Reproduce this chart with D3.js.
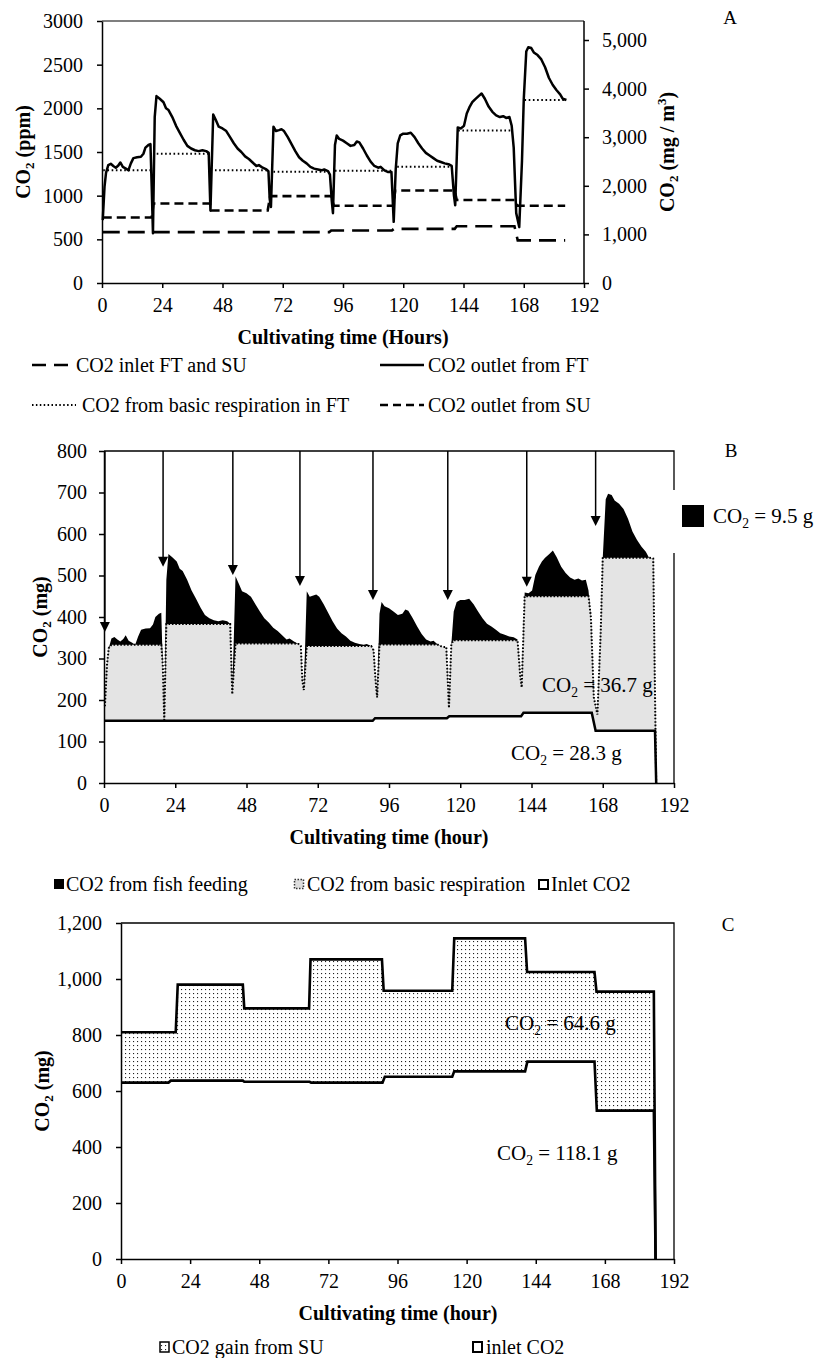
<!DOCTYPE html>
<html><head><meta charset="utf-8">
<script src="https://cdn.jsdelivr.net/npm/d3@7"></script>
<style>html,body{margin:0;padding:0;background:#fff}</style>
</head><body>
<svg id="chart" width="819" height="1358" xmlns="http://www.w3.org/2000/svg"></svg>
<script>
// ================= DATA =================
const hourTicks = [0, 24, 48, 72, 96, 120, 144, 168, 192];
const aLeftTicks = [0, 500, 1000, 1500, 2000, 2500, 3000];
const aRightTicks = [0, 1000, 2000, 3000, 4000, 5000];
const aRightMax = 5391;               // mg/m3 equivalent of 3000 ppm (right axis top)
const bTicks = [0, 100, 200, 300, 400, 500, 600, 700, 800];
const cTicks = [0, 200, 400, 600, 800, 1000, 1200];

// Panel A / B : outlet from fish tank (sampling hours)
const outletHours = [
  0.3,1.0,1.6,2.5,3.5,4.5,5.5,6.5,7.3,8.3,9.5,10.5,11.5,12.5,14,15.5,16.5,17.3,18.5,19.3,19.8,20.3,
  21.0,21.7,23,24.5,25.5,26.5,28,29.5,31,32.5,34,35.5,37,38.5,40,41.5,42.5,43.2,
  44.3,45.3,46.5,48,49.5,51,52.5,54,55.5,57,58.5,60,61.5,62.5,64,65.5,66.3,66.8,67.3,
  68.3,69.3,70.5,71.5,72.5,74,75.5,77,78.5,80,81.5,83,84.5,86,87.5,88.5,90,90.8,91.5,92,
  92.8,93.5,94.5,96,97.5,99,100.5,101.5,102.5,104,105.5,107,108.5,110,111,112.5,114,115.3,116.2,
  117,117.8,118.8,120,121.5,123,124.5,126,127.5,129,130.5,132,133.5,135,136.5,138,139.3,140.2,140.7,
  141.7,143,144.2,145.3,146.5,147.5,148.5,150,151.2,152.5,154,155.5,157,158.5,159.8,161,162.3,163.2,164,165,166.2,
  167.3,168,169,169.8,171,172,173.5,175,176.5,178,179.5,181,182.5,183.5,185
];
const aOutletPpm = [
  720,1100,1260,1350,1365,1340,1320,1345,1380,1330,1310,1290,1370,1430,1440,1445,1480,1550,1580,1590,1100,570,
  1900,2140,2110,2070,2000,1980,1900,1800,1720,1640,1570,1540,1520,1510,1520,1510,1490,830,
  1930,1870,1790,1770,1740,1670,1600,1540,1500,1450,1420,1380,1340,1350,1320,1300,1280,960,870,
  1790,1740,1750,1760,1740,1670,1590,1510,1440,1400,1370,1330,1310,1300,1290,1300,1280,1240,950,800,
  1580,1690,1650,1630,1600,1570,1580,1620,1610,1540,1460,1390,1340,1320,1330,1290,1270,1270,700,
  1300,1600,1690,1710,1710,1720,1670,1600,1540,1490,1460,1430,1400,1385,1370,1360,1340,1000,890,
  1780,1770,1800,1940,2020,2070,2100,2140,2170,2110,2020,1960,1920,1900,1910,1890,1900,1800,1550,800,640,
  1400,2100,2650,2700,2690,2640,2610,2560,2470,2350,2270,2210,2160,2110,2095
];
// basic respiration level per cycle (dotted)
const aBasicStart = [0.5, 21.8, 45.0, 68.3, 92.8, 117.6, 141.9, 168.3];
const aBasicEnd   = [19.3, 42.5, 66.0, 90.5, 115.3, 139.3, 163.0, 185];
const aBasicPpm   = [1290, 1480, 1290, 1275, 1285, 1330, 1745, 2095];
// outlet from SU (short dash)
const suHours = [0.3,19.8,20.5,43.0,43.5,66.0,67.0,91.5,92.3,116.0,116.8,140.5,141.3,164.5,165.5,184.5];
const aSuPpm  = [750,750,910,910,830,830,995,995,885,885,1060,1060,950,950,885,885];
// inlet FT and SU (long dash)
const inletHours = [0.3, 90.5, 91.3, 115.5, 116.3, 140.5, 141.3, 164.3, 165.6, 184.5];
const aInletPpm  = [582, 582, 602, 602, 620, 620, 650, 650, 488, 488];

// Panel B (mg)
const bHours = outletHours.concat([186]);
const bOutletMg = [
  185,284,325,348,352,346,341,347,356,343,338,333,353,369,372,373,382,400,408,410,284,152,
  490,552,544,534,516,511,490,464,444,423,405,397,392,390,392,390,384,214,
  498,482,462,457,449,431,413,397,387,374,366,356,346,348,341,335,330,248,224,
  462,449,452,454,449,431,410,390,372,361,353,343,338,335,333,335,330,320,245,206,
  408,436,426,421,413,405,408,418,415,397,377,359,346,341,343,333,328,328,181,
  335,413,436,441,441,444,431,413,397,384,377,369,361,357,353,351,346,258,230,
  459,457,464,501,521,534,542,552,560,544,521,506,495,490,493,488,490,464,400,206,165,
  361,542,684,697,694,681,673,660,637,606,586,570,557,544,541,
  0
];
const bCycleStart = [0, 20.3, 43.2, 67.3, 92, 116.2, 140.7, 166.2];
const bBasicMg    = [333, 383, 336, 330, 334, 344, 450, 543];
const bInletHours = [0, 90.5, 91.3, 115.5, 116.3, 140.5, 141.3, 164.3, 165.6, 185.6, 186];
const bInletMg    = [150, 150, 156, 156, 161, 161, 169, 169, 126, 126, 0];
const bArrowHours = [0.3, 19.9, 43.4, 66.0, 90.6, 115.8, 142.4, 165.6];
const bArrowTipMg = [364, 521, 501, 475, 441, 441, 473, 619];

// Panel C (mg)
const cTotalHours = [0,19.0,19.7,42.3,42.8,65.3,65.8,90.6,91.2,115.0,115.7,140.3,141.0,164.4,165.1,185.0,185.6];
const cTotalMg    = [810,810,980,980,895,895,1070,1070,958,958,1145,1145,1025,1025,955,955,0];
const cInletHours = [0,16.5,17.3,42.3,42.8,65.5,66.0,90.8,91.6,115.0,115.7,140.3,141.1,164.4,165.2,185.0,185.6];
const cInletMg    = [630,630,637,637,633,633,630,630,651,651,670,670,705,705,530,530,0];

const legendA = ["CO2 inlet FT and SU", "CO2 outlet from FT", "CO2 from basic respiration in FT", "CO2 outlet from SU"];
const legendB = ["CO2 from fish feeding", "CO2 from basic respiration", "Inlet CO2"];
const legendC = ["CO2 gain from SU", "inlet CO2"];

// ================= DRAWING =================
const FONT = '"Liberation Serif","Times New Roman",Times,serif';
const svg = d3.select("#chart");
svg.append("rect").attr("width", 819).attr("height", 1358).attr("fill", "#fff");
const defs = svg.append("defs");
const pat = defs.append("pattern").attr("id", "dots").attr("patternUnits", "userSpaceOnUse")
  .attr("width", 4).attr("height", 4);
pat.append("rect").attr("width", 4).attr("height", 4).attr("fill", "#fff");
pat.append("rect").attr("x", 1).attr("y", 1).attr("width", 1.1).attr("height", 1.1).attr("fill", "#222");

function plainText(x, y, s, o = {}) {
  const size = o.size || 20;
  return svg.append("text").attr("x", x).attr("y", y + size * 0.34)
    .attr("font-family", FONT).attr("font-size", size)
    .attr("font-weight", o.bold ? "bold" : "normal")
    .attr("text-anchor", o.anchor || "start").attr("fill", "#000").text(s);
}
function co2Label(x, y, rest, o = {}) {
  const size = o.size || 20;
  const t = svg.append("text").attr("x", x).attr("y", y + size * 0.34)
    .attr("font-family", FONT).attr("font-size", size)
    .attr("font-weight", o.bold ? "bold" : "normal")
    .attr("text-anchor", o.anchor || "start").attr("fill", "#000");
  if (o.rotate) t.attr("transform", `rotate(-90,${x},${y})`);
  t.append("tspan").text("CO");
  t.append("tspan").attr("font-size", size * 0.65).attr("dy", size * 0.22).text("2");
  if (o.sup) {
    t.append("tspan").attr("dy", -size * 0.22).text(rest);
    t.append("tspan").attr("font-size", size * 0.65).attr("dy", -size * 0.38).text(o.sup);
    t.append("tspan").attr("dy", size * 0.38).text(o.after);
  } else {
    t.append("tspan").attr("dy", -size * 0.22).text(rest);
  }
  return t;
}
function styleAxis(g, size) {
  g.select(".domain").attr("stroke", "#000").attr("stroke-width", 1.5);
  g.selectAll(".tick line").attr("stroke", "#000").attr("stroke-width", 1.5);
  g.selectAll(".tick text").attr("font-family", FONT).attr("font-size", size || 20).attr("fill", "#000");
}
const lineOf = (xs, ys, t, v) => d3.line().x((d, i) => xs(t[i])).y((d, i) => ys(v[i]))(t);
const areaOf = (xs, ys, t, v) => d3.area().x((d, i) => xs(t[i])).y0(ys(0)).y1((d, i) => ys(v[i]))(t);

// ---------- Panel A ----------
const ax = d3.scaleLinear().domain([0, 192]).range([102, 584]);
const ay = d3.scaleLinear().domain([0, 3000]).range([283, 21]);
const ayR = d3.scaleLinear().domain([0, aRightMax]).range([283, 21]);

svg.append("line").attr("x1", 102).attr("x2", 584).attr("y1", 21).attr("y2", 21).attr("stroke", "#000").attr("stroke-width", 1.2);

svg.append("path").attr("d", lineOf(ax, ay, inletHours, aInletPpm)).attr("fill", "none")
  .attr("stroke", "#000").attr("stroke-width", 2.6).attr("stroke-dasharray", "17,8");
svg.append("path").attr("d", lineOf(ax, ay, suHours, aSuPpm)).attr("fill", "none")
  .attr("stroke", "#000").attr("stroke-width", 2.6).attr("stroke-dasharray", "9,5");
aBasicPpm.forEach((v, i) => {
  svg.append("line").attr("x1", ax(aBasicStart[i])).attr("x2", ax(aBasicEnd[i]))
    .attr("y1", ay(v)).attr("y2", ay(v)).attr("stroke", "#000").attr("stroke-width", 2)
    .attr("stroke-dasharray", "1.6,2.6");
});
svg.append("path").attr("d", lineOf(ax, ay, outletHours, aOutletPpm)).attr("fill", "none")
  .attr("stroke", "#000").attr("stroke-width", 2.5).attr("stroke-linejoin", "round");

const gAx = svg.append("g").attr("transform", "translate(0,283)")
  .call(d3.axisBottom(ax).tickValues(hourTicks).tickSize(5).tickSizeOuter(0).tickPadding(10));
styleAxis(gAx);
const gAy = svg.append("g").attr("transform", "translate(102,0)")
  .call(d3.axisLeft(ay).tickValues(aLeftTicks).tickFormat(d3.format("d")).tickSize(5).tickSizeOuter(0).tickPadding(14));
styleAxis(gAy);
const gAr = svg.append("g").attr("transform", "translate(584,0)")
  .call(d3.axisRight(ayR).tickValues(aRightTicks).tickFormat(d3.format(",")).tickSize(5).tickSizeOuter(0).tickPadding(13));
styleAxis(gAr);
gAr.select(".domain").attr("d", "M0,21V283");

co2Label(23, 152, " (ppm)", { bold: true, rotate: true, anchor: "middle" });
co2Label(667, 152, " (mg / m", { rotate: true, anchor: "middle", bold: true, sup: "3", after: ")" });
plainText(343, 337, "Cultivating time (Hours)", { bold: true, anchor: "middle" });
plainText(730, 18, "A", { size: 19, anchor: "middle" });

// legend A
const la = svg.append("g");
la.append("line").attr("x1", 32).attr("x2", 68).attr("y1", 365).attr("y2", 365).attr("stroke", "#000").attr("stroke-width", 2.4).attr("stroke-dasharray", "14,8");
plainText(76, 365, legendA[0]);
la.append("line").attr("x1", 380).attr("x2", 424).attr("y1", 365).attr("y2", 365).attr("stroke", "#000").attr("stroke-width", 2.4);
plainText(428, 365, legendA[1]);
la.append("line").attr("x1", 32).attr("x2", 76).attr("y1", 405).attr("y2", 405).attr("stroke", "#000").attr("stroke-width", 1.8).attr("stroke-dasharray", "1.5,2.4");
plainText(82, 405, legendA[2]);
la.append("line").attr("x1", 380).attr("x2", 424).attr("y1", 405).attr("y2", 405).attr("stroke", "#000").attr("stroke-width", 2.4).attr("stroke-dasharray", "8,5");
plainText(428, 405, legendA[3]);

// ---------- Panel B ----------
const bx = d3.scaleLinear().domain([0, 192]).range([104, 674]);
const by = d3.scaleLinear().domain([0, 800]).range([783, 451]);
const levelAt = t => { let k = 0; bCycleStart.forEach((s, i) => { if (t >= s) k = i; }); return bBasicMg[k]; };
const bGrayTop = bOutletMg.map((v, i) => Math.min(v, levelAt(bHours[i])));

svg.append("path").attr("d", areaOf(bx, by, bHours, bOutletMg)).attr("fill", "#000");
svg.append("path").attr("d", areaOf(bx, by, bHours, bGrayTop)).attr("fill", "#e4e4e4");
svg.append("path").attr("d", areaOf(bx, by, bInletHours, bInletMg)).attr("fill", "#fff");

co2Label(542, 685, " = 36.7 g", { size: 21 });
co2Label(511, 753, " = 28.3 g", { size: 21 });

svg.append("path").attr("d", lineOf(bx, by, bHours, bGrayTop)).attr("fill", "none")
  .attr("stroke", "#000").attr("stroke-width", 2).attr("stroke-dasharray", "1.6,1.8");
svg.append("path").attr("d", lineOf(bx, by, bInletHours, bInletMg)).attr("fill", "none")
  .attr("stroke", "#000").attr("stroke-width", 2.5);

// frame
svg.append("path").attr("d", `M104,451H674V783`).attr("fill", "none").attr("stroke", "#000").attr("stroke-width", 1.3);

const gBx = svg.append("g").attr("transform", "translate(0,783)")
  .call(d3.axisBottom(bx).tickValues(hourTicks).tickSize(5).tickSizeOuter(0).tickPadding(10));
styleAxis(gBx);
const gBy = svg.append("g").attr("transform", "translate(104,0)")
  .call(d3.axisLeft(by).tickValues(bTicks).tickSize(5).tickSizeOuter(0).tickPadding(12));
styleAxis(gBy);

// feeding arrows
bArrowHours.forEach((h, i) => {
  const x = bx(h), yt = by(bArrowTipMg[i]);
  svg.append("line").attr("x1", x).attr("x2", x).attr("y1", by(800)).attr("y2", yt - 8)
    .attr("stroke", "#000").attr("stroke-width", 1.5);
  svg.append("path").attr("d", `M${x - 5},${yt - 10}L${x + 5},${yt - 10}L${x},${yt}Z`).attr("fill", "#000");
});

// legend 9.5 g (covers frame)
svg.append("rect").attr("x", 669).attr("y", 490).attr("width", 150).attr("height", 63).attr("fill", "#fff");
svg.append("rect").attr("x", 682).attr("y", 505).attr("width", 22).attr("height", 22).attr("fill", "#000");
co2Label(713, 516, " = 9.5 g", { size: 21 });

co2Label(40, 617, " (mg)", { bold: true, rotate: true, anchor: "middle" });
plainText(389, 837, "Cultivating time (hour)", { bold: true, anchor: "middle" });
plainText(731, 451, "B", { size: 19, anchor: "middle" });

// legend B
svg.append("rect").attr("x", 54).attr("y", 879).attr("width", 10).attr("height", 10).attr("fill", "#000");
plainText(66, 884, legendB[0]);
svg.append("rect").attr("x", 294.5).attr("y", 879.5).attr("width", 9).attr("height", 9).attr("fill", "#ddd")
  .attr("stroke", "#333").attr("stroke-width", 1.5).attr("stroke-dasharray", "1.5,1.5");
plainText(307, 884, legendB[1]);
svg.append("rect").attr("x", 539).attr("y", 880).attr("width", 9).attr("height", 9).attr("fill", "#fff")
  .attr("stroke", "#000").attr("stroke-width", 2);
plainText(551, 884, legendB[2]);

// ---------- Panel C ----------
const cx = d3.scaleLinear().domain([0, 192]).range([121, 674]);
const cy = d3.scaleLinear().domain([0, 1200]).range([1259, 923]);

svg.append("path").attr("d", areaOf(cx, cy, cTotalHours, cTotalMg)).attr("fill", "url(#dots)");
svg.append("path").attr("d", areaOf(cx, cy, cInletHours, cInletMg)).attr("fill", "#fff");
svg.append("path").attr("d", lineOf(cx, cy, cTotalHours, cTotalMg)).attr("fill", "none")
  .attr("stroke", "#000").attr("stroke-width", 2.6);
svg.append("path").attr("d", lineOf(cx, cy, cInletHours, cInletMg)).attr("fill", "none")
  .attr("stroke", "#000").attr("stroke-width", 2.6);

svg.append("path").attr("d", `M121,923H674V1259`).attr("fill", "none").attr("stroke", "#000").attr("stroke-width", 1.3);

const gCx = svg.append("g").attr("transform", "translate(0,1259)")
  .call(d3.axisBottom(cx).tickValues(hourTicks).tickSize(5).tickSizeOuter(0).tickPadding(10));
styleAxis(gCx);
const gCy = svg.append("g").attr("transform", "translate(121,0)")
  .call(d3.axisLeft(cy).tickValues(cTicks).tickFormat(d3.format(",")).tickSize(5).tickSizeOuter(0).tickPadding(14));
styleAxis(gCy);

co2Label(505, 1023, " = 64.6 g", { size: 21 });
co2Label(497, 1153, " = 118.1 g", { size: 21 });

co2Label(42, 1091, " (mg)", { bold: true, rotate: true, anchor: "middle" });
plainText(398, 1313, "Cultivating time (hour)", { bold: true, anchor: "middle" });
plainText(728, 925, "C", { size: 19, anchor: "middle" });

// legend C
svg.append("rect").attr("x", 160).attr("y", 1342).attr("width", 9).attr("height", 10).attr("fill", "url(#dots)")
  .attr("stroke", "#000").attr("stroke-width", 1.5);
plainText(172, 1347, legendC[0]);
svg.append("rect").attr("x", 473).attr("y", 1342).attr("width", 9).attr("height", 10).attr("fill", "#fff")
  .attr("stroke", "#000").attr("stroke-width", 2);
plainText(486, 1347, legendC[1]);
</script>
</body></html>
